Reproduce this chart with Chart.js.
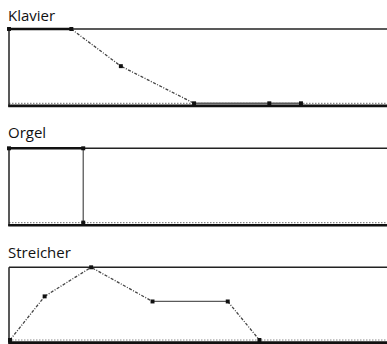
<!DOCTYPE html>
<html>
<head>
<meta charset="utf-8">
<script src="https://cdn.jsdelivr.net/npm/chart.js@4.4.0/dist/chart.umd.min.js"></script>
<style>
  html, body { margin: 0; padding: 0; background: #fff; width: 387px; height: 344px; overflow: hidden; position: relative; }
  .title { position: absolute; left: 8px; font-family: "Open Sans", sans-serif; font-size: 15px; color: #111; line-height: 1; }
  .wrap { position: absolute; left: 0; width: 400px; }
  canvas { display: block; }
</style>
</head>
<body>
<div class="title" style="top:8px">Klavier</div>
<div class="title" style="top:125px">Orgel</div>
<div class="title" style="top:245px">Streicher</div>
<div class="wrap" style="top:20px;height:90px"><canvas id="c1"></canvas></div>
<div class="wrap" style="top:139px;height:90px"><canvas id="c2"></canvas></div>
<div class="wrap" style="top:258px;height:86px"><canvas id="c3"></canvas></div>
<script>
// Envelope data (x = time units, y = level 0..1)
const klavierX = [0, 63, 113, 187, 263, 295];
const klavierY = [1, 1, 0.5, 0, 0, 0];
const orgelX = [0, 75, 75];
const orgelY = [1, 1, 0];
const streicherX = [1, 36, 83, 145, 221, 253];
const streicherY = [0, 0.6, 1, 0.53, 0.53, 0];
const xMax = 391;

const framePlugin = {
  id: 'frame',
  beforeDatasetsDraw(chart) {
    const {ctx, chartArea: a} = chart;
    const W = chart.width;
    ctx.save();
    // dotted baseline
    ctx.strokeStyle = '#8a8a8a';
    ctx.lineWidth = 1.2;
    ctx.setLineDash([1.5, 1.5]);
    ctx.beginPath();
    ctx.moveTo(a.left, a.bottom);
    ctx.lineTo(W, a.bottom);
    ctx.stroke();
    ctx.setLineDash([]);
    // top border
    ctx.strokeStyle = '#222';
    ctx.lineWidth = 1.5;
    ctx.beginPath();
    ctx.moveTo(a.left, a.top);
    ctx.lineTo(W, a.top);
    ctx.stroke();
    // left border
    ctx.beginPath();
    ctx.moveTo(a.left, a.top);
    ctx.lineTo(a.left, a.bottom + 3.5);
    ctx.stroke();
    // bottom border
    ctx.strokeStyle = '#111';
    ctx.lineWidth = 2.6;
    ctx.beginPath();
    ctx.moveTo(a.left - 0.75, a.bottom + 2.6);
    ctx.lineTo(W, a.bottom + 2.6);
    ctx.stroke();
    ctx.restore();
  }
};

function isSlope(c) { return c.p0.parsed.x !== c.p1.parsed.x && c.p0.parsed.y !== c.p1.parsed.y; }
function isTop(c) { return c.p0.parsed.y === 1 && c.p1.parsed.y === 1; }
function isBottom(c) { return c.p0.parsed.y === 0 && c.p1.parsed.y === 0; }

function makeChart(id, xs, ys, pad) {
  const data = xs.map((x, i) => ({x: x, y: ys[i]}));
  new Chart(document.getElementById(id), {
    type: 'line',
    data: {
      datasets: [{
        data: data,
        borderColor: '#555',
        borderWidth: 1.4,
        pointStyle: 'rect',
        pointRadius: 2.8,
        pointBackgroundColor: '#111',
        pointBorderColor: '#111',
        pointBorderWidth: 0,
        clip: false,
        tension: 0,
        segment: {
          borderDash: c => isSlope(c) ? [3, 1.5, 1, 1.5] : [],
          borderWidth: c => isTop(c) ? 2.6 : (isBottom(c) ? 1.8 : 1.3),
          borderColor: c => isTop(c) ? '#111' : (isSlope(c) ? '#444' : '#5a5a5a')
        }
      }]
    },
    options: {
      responsive: true,
      maintainAspectRatio: false,
      animation: false,
      events: [],
      layout: { padding: pad },
      plugins: { legend: { display: false }, tooltip: { enabled: false }, title: { display: false } },
      scales: {
        x: { type: 'linear', min: 0, max: xMax, display: false },
        y: { type: 'linear', min: 0, max: 1, display: false }
      }
    },
    plugins: [framePlugin]
  });
}

makeChart('c1', klavierX, klavierY, {left: 9, right: 0, top: 9, bottom: 6.7});
makeChart('c2', orgelX, orgelY, {left: 9, right: 0, top: 9.3, bottom: 6.4});
makeChart('c3', streicherX, streicherY, {left: 9, right: 0, top: 9.3, bottom: 2.7});
</script>
</body>
</html>
